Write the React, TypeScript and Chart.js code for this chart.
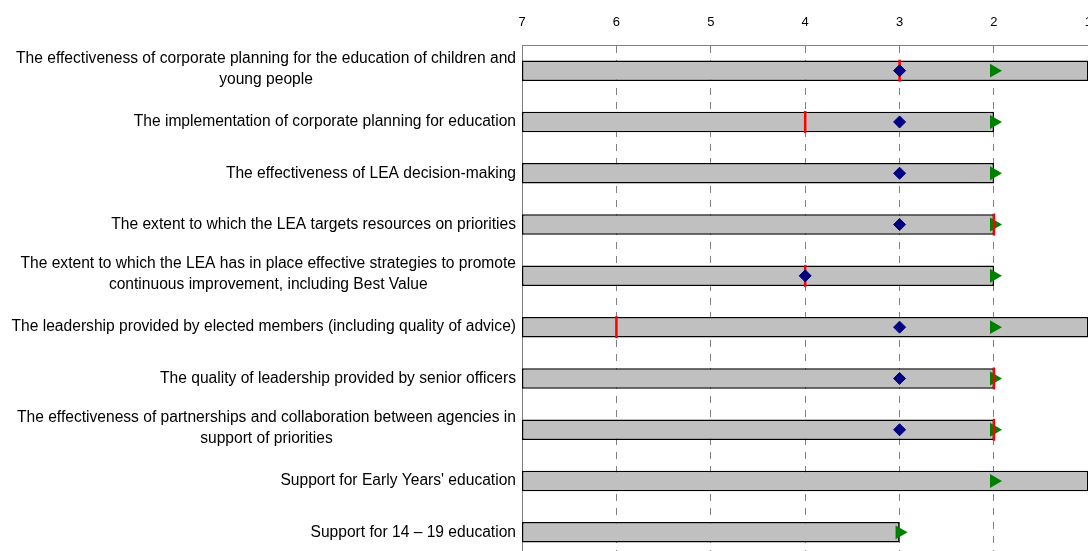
import React, { useEffect, useRef } from "react";
import { Chart, registerables } from "chart.js";

Chart.register(...registerables);

const categories: (string | string[])[] = [
  ["The effectiveness of corporate planning for the education of children and", "young people"],
  "The implementation of corporate planning for education",
  "The effectiveness of LEA decision-making",
  "The extent to which the LEA targets resources on priorities",
  ["The extent to which the LEA has in place effective strategies to promote", "continuous improvement, including Best Value"],
  "The leadership provided by elected members (including quality of advice)",
  "The quality of leadership provided by senior officers",
  ["The effectiveness of partnerships and collaboration between agencies in", "support of priorities"],
  "Support for Early Years' education",
  "Support for 14 \u2013 19 education",
];

const barValues = [1, 2, 2, 2, 2, 1, 2, 2, 1, 3];
const diamondValues = [3, 3, 3, 3, 4, 3, 3, 3, null, null];
const triangleValues = [2, 2, 2, 2, 2, 2, 2, 2, 2, 3];
const redLineValues = [3, 4, null, 2, 4, 6, 2, 2, null, null];
const axisMin = 1;
const axisMax = 7;

const FONT = '"Liberation Sans", Arial, sans-serif';
const W = 1107;
const H = 560;

const yLabelPlugin = {
  id: "yLabelPlugin",
  afterDraw(chart: any) {
    const { ctx, chartArea } = chart;
    const yScale = chart.scales.y;
    ctx.save();
    ctx.font = `15.6px ${FONT}`;
    ctx.fillStyle = "#000";
    ctx.textBaseline = "middle";
    ctx.textAlign = "center";
    const lineH = 21;
    const right = chartArea.left - 6;
    categories.forEach((lab, i) => {
      const lines = Array.isArray(lab) ? lab : [lab];
      const w = Math.max(...lines.map((l) => ctx.measureText(l).width));
      const cx = right - w / 2;
      const cy = yScale.getPixelForValue(i) - (lines.length > 1 ? 1.5 : 0);
      const start = cy - ((lines.length - 1) * lineH) / 2;
      lines.forEach((l, j) => ctx.fillText(l, cx, start + j * lineH));
    });
    ctx.restore();
  },
};

export default function App() {
  const ref = useRef<HTMLCanvasElement>(null);
  useEffect(() => {
    if (!ref.current) return;
    const chart = new Chart(ref.current, {
      type: "bar",
      data: {
        labels: categories.map((c) => (Array.isArray(c) ? c.join(" ") : c)),
        datasets: [
          {
            type: "line",
            label: "diamond",
            data: diamondValues as any,
            showLine: false,
            pointStyle: "rectRot",
            pointRadius: 6,
            pointBackgroundColor: "#000080",
            pointBorderColor: "#000080",
            pointBorderWidth: 1,
            order: 0,
            clip: false,
          } as any,
          {
            type: "line",
            label: "red",
            data: redLineValues as any,
            showLine: false,
            pointStyle: "line",
            pointRotation: 90,
            pointRadius: 11,
            pointBorderColor: "#FF0000",
            pointBackgroundColor: "#FF0000",
            pointBorderWidth: 2.5,
            order: 1,
            clip: false,
          } as any,
          {
            type: "line",
            label: "triangle",
            data: triangleValues as any,
            showLine: false,
            pointStyle: "triangle",
            pointRotation: 90,
            pointRadius: 8,
            pointBackgroundColor: "#008000",
            pointBorderColor: "#008000",
            pointBorderWidth: 0,
            order: 2,
            clip: false,
          } as any,
          {
            type: "bar",
            label: "bar",
            data: barValues.map((v) => [axisMax, v]) as any,
            backgroundColor: "#C0C0C0",
            borderColor: "#000000",
            borderWidth: 1.5,
            borderSkipped: false,
            categoryPercentage: 1,
            barPercentage: 0.4,
            order: 3,
          } as any,
        ],
      },
      options: {
        indexAxis: "y",
        animation: false,
        responsive: false,
        maintainAspectRatio: false,
        layout: { autoPadding: false, padding: { left: 0, right: 0, top: 0, bottom: 2 } },
        plugins: { legend: { display: false }, tooltip: { enabled: false } },
        scales: {
          x: {
            type: "linear",
            position: "top",
            reverse: true,
            min: axisMin,
            max: axisMax,
            afterFit: (s: any) => {
              s.height = 45;
            },
            ticks: {
              stepSize: 1,
              color: "#000",
              font: { family: FONT, size: 13 },
              padding: 15,
            },
            grid: {
              drawTicks: false,
              color: (c: any) =>
                c.tick && (c.tick.value === axisMin || c.tick.value === axisMax) ? "rgba(0,0,0,0)" : "#808080",
              lineWidth: 1,
            },
            border: { display: true, color: "#808080", width: 1, dash: [7, 7] },
          },
          y: {
            type: "category",
            afterFit: (s: any) => {
              s.width = 522;
            },
            ticks: { display: false },
            grid: { display: false, drawTicks: false },
            border: { display: true, color: "#808080", width: 1 },
          },
        },
      } as any,
      plugins: [yLabelPlugin],
    });
    return () => chart.destroy();
  }, []);

  return (
    <>
      <style>{`html,body{margin:0;overflow:hidden;background:#fff}`}</style>
      <div style={{ position: "absolute", left: 0, top: 0, width: W, height: H }}>
        <canvas ref={ref} width={W} height={H} style={{ width: W, height: H }} />
      </div>
    </>
  );
}
